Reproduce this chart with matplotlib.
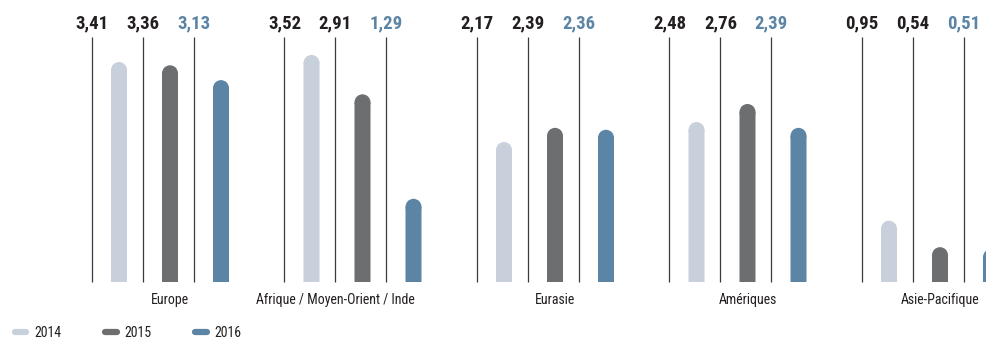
import matplotlib
matplotlib.use("Agg")
import matplotlib.pyplot as plt
from matplotlib.lines import Line2D
from matplotlib.patches import Ellipse

categories = ["Europe", "Afrique / Moyen-Orient / Inde", "Eurasie", "Amériques", "Asie-Pacifique"]
years = ["2014", "2015", "2016"]
v2014 = [3.41, 3.52, 2.17, 2.48, 0.95]
v2015 = [3.36, 2.91, 2.39, 2.76, 0.54]
v2016 = [3.13, 1.29, 2.36, 2.39, 0.51]
series = [v2014, v2015, v2016]

colors = ["#c8d0dc", "#6d6e70", "#5b84a5"]
text_colors = ["#231f20", "#231f20", "#5b84a5"]

W, H = 987, 340
fig = plt.figure(figsize=(W / 100, H / 100), dpi=100)
ax = fig.add_axes([0, 0, 1, 1])

gx = 192.5
base_px = 92
base_y = 282
ppu = 64.5
ax.set_xlim(-base_px / gx, (W - base_px) / gx)
ax.set_ylim(-(H - base_y) / ppu, base_y / ppu)
ax.axis("off")

line_step = 51 / gx
bar_off = 27 / gx
bar_w = 16 / gx
r = 8 / ppu
line_top = (base_y - 37) / ppu
val_y = (base_y - 23) / ppu

fonts = ["Roboto Condensed", "Archivo Narrow", "Roboto", "DejaVu Sans"]

for j, vals in enumerate(series):
    for i, v in enumerate(vals):
        lx = i + j * line_step
        ax.plot([lx, lx], [0, line_top], color="#3a3a3a", lw=0.9, solid_capstyle="butt")
        bx = lx + bar_off
        ax.bar(bx, v - r, width=bar_w, bottom=0, color=colors[j], linewidth=0,
               align="center", snap=False)
        ax.add_patch(Ellipse((bx, v - r), width=bar_w, height=2 * r, facecolor=colors[j],
                             linewidth=0, zorder=3))
        ax.text(lx, val_y, f"{v:.2f}".replace(".", ","), ha="center", va="center",
                fontsize=13.5, fontweight="bold", color=text_colors[j], family=fonts)

label_x = [0 + line_step + bar_off, 1 + line_step, 2 + line_step + bar_off,
           3 + line_step + bar_off, 4 + line_step + bar_off]
for i, c in enumerate(categories):
    ax.text(label_x[i], -(300 - base_y) / ppu, c, ha="center", va="center",
            fontsize=10, color="#231f20", family=fonts)

handles = [Line2D([], [], color=colors[j], lw=4.5, solid_capstyle="round") for j in range(3)]
leg = fig.legend(handles, years, loc="center left", bbox_to_anchor=(2 / W, 1 - 333 / H),
                 ncol=3, frameon=False, handlelength=0.85, handletextpad=0.55,
                 columnspacing=3.15, prop={"family": fonts, "size": 10})
for t in leg.get_texts():
    t.set_color("#231f20")

fig.savefig("out.png", dpi=100)
